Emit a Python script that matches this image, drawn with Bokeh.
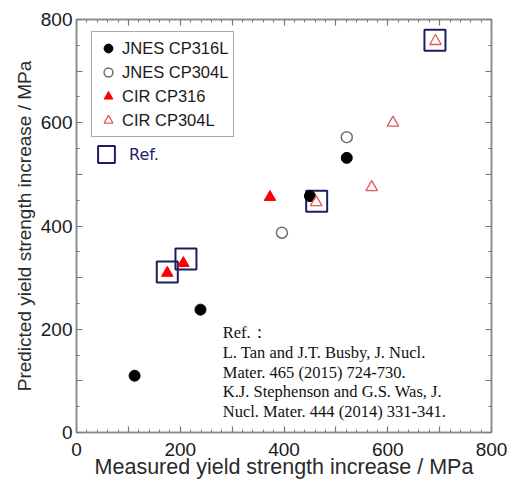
import math
from bokeh.plotting import figure
from bokeh.models import (Range1d, FixedTicker, LinearAxis, Legend, LegendItem, Label)
from bokeh.embed import file_html
from bokeh.resources import INLINE

# ---- data ----
jnes316_x = [112, 239, 450, 521]
jnes316_y = [110, 238, 458, 532]
jnes304_x = [396, 521]
jnes304_y = [387, 572]
cir316_x = [175, 206, 373]
cir316_y = [309, 328, 456]
cir304_x = [462, 569, 610, 692]
cir304_y = [446, 475, 600, 758]
ref_x = [175, 211, 463, 691]
ref_y = [311, 336, 448, 760]

x_ticks = list(range(0, 801, 100))
x_minor = list(range(0, 801, 20))
y_ticks = list(range(0, 801, 100))
y_minor = list(range(0, 801, 50))
tick_labels = {v: (str(v) if v % 200 == 0 else "") for v in x_ticks}

x_title = "Measured yield strength increase / MPa"
y_title = "Predicted yield strength increase / MPa"
ref_text = ("Ref.\uff1a\nL. Tan and J.T. Busby, J. Nucl.\nMater. 465 (2015) 724-730.\n"
            "K.J. Stephenson and G.S. Was, J.\nNucl. Mater. 444 (2014) 331-341.")

p = figure(width=507, height=482, output_backend="svg", toolbar_location=None,
           x_range=Range1d(0, 800), y_range=Range1d(0, 800),
           min_border_left=76, min_border_right=16, min_border_top=19, min_border_bottom=50,
           x_axis_location=None, y_axis_location=None)
p.grid.visible = False
p.outline_line_color = "#8a8a8a"
p.outline_line_width = 1.5
p.background_fill_color = "white"
p.border_fill_color = "white"

def style_axis(ax, ticks, minor, show_labels):
    ax.ticker = FixedTicker(ticks=ticks, minor_ticks=minor)
    ax.axis_line_color = "#8a8a8a"
    ax.axis_line_width = 1.5
    ax.major_tick_line_color = "#777777"
    ax.minor_tick_line_color = "#777777"
    ax.major_tick_in = 6
    ax.major_tick_out = 0
    ax.minor_tick_in = 3
    ax.minor_tick_out = 0
    ax.major_tick_line_width = 1.2
    ax.minor_tick_line_width = 1
    if show_labels:
        ax.major_label_overrides = tick_labels
        ax.major_label_text_font = "Liberation Sans"
        ax.major_label_text_font_size = "19px"
        ax.major_label_text_color = "#1a1a1a"
        ax.axis_label_text_font = "Liberation Sans"
        ax.axis_label_text_font_style = "normal"
        ax.axis_label_text_color = "#2a2a2a"
    else:
        ax.major_label_text_font_size = "1px"
        ax.major_label_text_color = None
        ax.major_label_standoff = 0

xb = LinearAxis(); style_axis(xb, x_ticks, x_minor, True)
xb.major_label_standoff = 10
xb.axis_label = x_title
xb.axis_label_text_font_size = "21.5px"
xb.axis_label_standoff = -4
yl = LinearAxis(); style_axis(yl, y_ticks, y_minor, True)
yl.major_label_standoff = 4
yl.axis_label = y_title
yl.axis_label_text_font_size = "19px"
yl.axis_label_standoff = 3
xt = LinearAxis(); style_axis(xt, x_ticks, x_minor, False)
yr = LinearAxis(); style_axis(yr, y_ticks, y_minor, False)
p.add_layout(xb, "below")
p.add_layout(yl, "left")
p.add_layout(xt, "above")
p.add_layout(yr, "right")

r_ref = p.scatter(ref_x, ref_y, marker="square", size=21, fill_color=None,
                  line_color="#1e1e5c", line_width=2)
r_j316 = p.scatter(jnes316_x, jnes316_y, marker="circle", size=11,
                   fill_color="black", line_color="black")
r_j304 = p.scatter(jnes304_x, jnes304_y, marker="circle", size=11,
                   fill_color=None, line_color="#6e6e6e", line_width=1.5)
r_c316 = p.scatter(cir316_x, cir316_y, marker="triangle", size=11.5,
                   fill_color="#ff0000", line_color="#ff0000")
r_c304 = p.scatter(cir304_x, cir304_y, marker="triangle", size=11.5,
                   fill_color=None, line_color="#e05a5a", line_width=1.3)

leg = Legend(items=[LegendItem(label="JNES CP316L", renderers=[r_j316]),
                    LegendItem(label="JNES CP304L", renderers=[r_j304]),
                    LegendItem(label="CIR CP316", renderers=[r_c316]),
                    LegendItem(label="CIR CP304L", renderers=[r_c304])],
             location=(15, 295), margin=0, padding=5, spacing=2,
             glyph_width=22, glyph_height=22, label_height=22, label_standoff=3,
             label_text_font="Liberation Sans", label_text_font_size="16.5px",
             label_text_color="#1a1a1a",
             border_line_color="#555555", border_line_width=1.5,
             background_fill_alpha=1)
p.add_layout(leg, "center")

leg2 = Legend(items=[LegendItem(label="Ref.", renderers=[r_ref])],
              location=(9, 257), margin=0, padding=0,
              glyph_width=42, glyph_height=42, label_height=42, label_standoff=2,
              label_text_font="DejaVu Sans", label_text_font_size="16px",
              label_text_color="#1e1e6e",
              border_line_color=None, background_fill_alpha=0)
p.add_layout(leg2, "center")

p.add_layout(Label(x=282, y=212, text=ref_text, text_font="Liberation Serif",
                   text_font_size="16.5px", text_color="#111111",
                   text_line_height=1.04, text_baseline="top"))

open("out.html", "w").write(file_html(p, INLINE))
